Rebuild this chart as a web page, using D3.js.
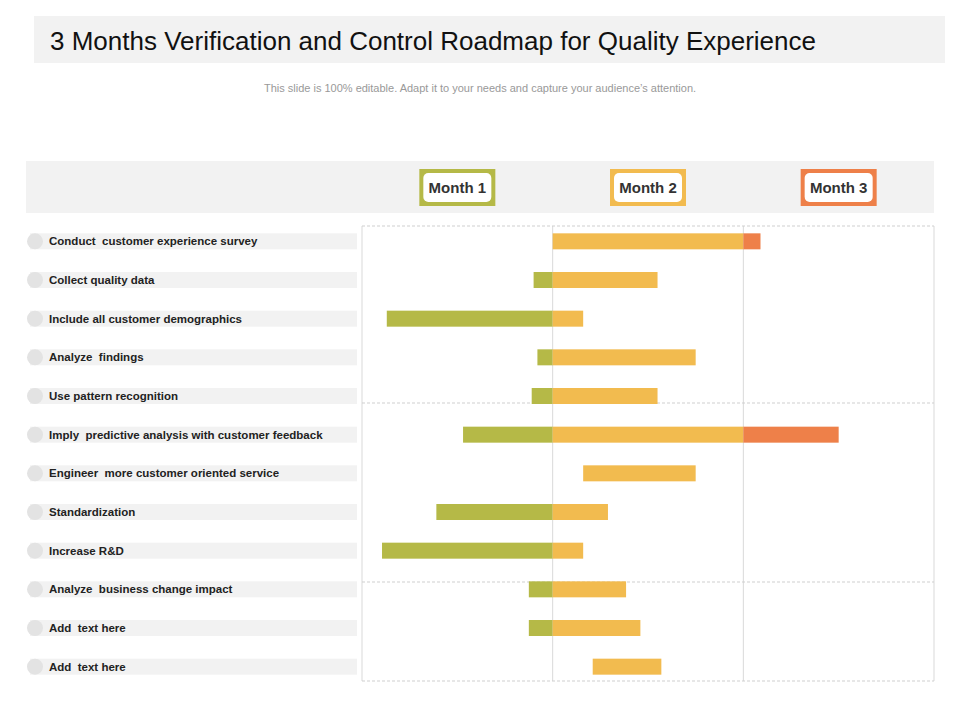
<!DOCTYPE html>
<html><head><meta charset="utf-8">
<script src="https://cdn.jsdelivr.net/npm/d3@7"></script>
<style>body{margin:0;background:#fff;font-family:"Liberation Sans",Arial,sans-serif}</style>
</head><body><div id="chart"></div>
<script>
var tasks = ["Conduct  customer experience survey","Collect quality data","Include all customer demographics","Analyze  findings","Use pattern recognition","Imply  predictive analysis with customer feedback","Engineer  more customer oriented service","Standardization","Increase R&D","Analyze  business change impact","Add  text here","Add  text here"];
var starts = [1.0, 0.90, 0.13, 0.92, 0.89, 0.53, 1.16, 0.39, 0.105, 0.875, 0.875, 1.21];
var ends   = [2.09, 1.55, 1.16, 1.75, 1.55, 2.50, 1.75, 1.29, 1.16, 1.385, 1.46, 1.57];
var months = ["Month 1","Month 2","Month 3"];
var monthColors = ["#b5b947","#f2bb4f","#ee8049"];

var svg = d3.select("#chart").append("svg").attr("width",960).attr("height",720);

svg.append("rect").attr("x",34).attr("y",16).attr("width",911).attr("height",47).attr("fill","#f2f2f2");
svg.append("text").attr("x",50).attr("y",50).attr("font-size",26).attr("fill","#111").text("3 Months Verification and Control Roadmap for Quality Experience");
svg.append("text").attr("x",480).attr("y",92).attr("text-anchor","middle").attr("font-size",11).attr("fill","#999")
  .text("This slide is 100% editable. Adapt it to your needs and capture your audience’s attention.");

var x = d3.scaleLinear().domain([0,3]).range([362,934]);
var y = d3.scaleBand().domain(d3.range(tasks.length)).range([222,686]);

// header band
svg.append("rect").attr("x",26).attr("y",161).attr("width",908).attr("height",52).attr("fill","#f2f2f2");
months.forEach(function(m,i){
  var cx = x(i+0.5);
  svg.append("rect").attr("x",cx-38).attr("y",169).attr("width",76).attr("height",37).attr("fill",monthColors[i]);
  svg.append("rect").attr("x",cx-34).attr("y",173).attr("width",68).attr("height",29).attr("rx",5).attr("fill","#fff");
  svg.append("text").attr("x",cx).attr("y",193).attr("text-anchor","middle").attr("font-size",15).attr("font-weight","bold").attr("fill","#333").text(m);
});

// grid
var g = svg.append("g");
[1,2].forEach(function(v){
  g.append("line").attr("x1",x(v)).attr("x2",x(v)).attr("y1",226).attr("y2",681).attr("stroke","#d9d9d9");
});
[0,3].forEach(function(v){
  g.append("line").attr("x1",x(v)).attr("x2",x(v)).attr("y1",226).attr("y2",681).attr("stroke","#d9d9d9");
});
[226,403,582,681].forEach(function(yy){
  g.append("line").attr("x1",362).attr("x2",934).attr("y1",yy).attr("y2",yy).attr("stroke","#cfcfcf").attr("stroke-dasharray","3,2");
});

// labels
tasks.forEach(function(t,i){
  var cy = y(i)+y.bandwidth()/2;
  svg.append("rect").attr("x",30).attr("y",cy-8).attr("width",327).attr("height",16).attr("fill","#f2f2f2");
  svg.append("circle").attr("cx",35).attr("cy",cy).attr("r",8).attr("fill","#e3e3e3");
  svg.append("text").attr("x",49).attr("y",cy+4).attr("font-size",11.5).attr("font-weight","bold").attr("fill","#222").style("white-space","pre").text(t);
});

// bars, split at month boundaries
tasks.forEach(function(t,i){
  var cy = y(i)+y.bandwidth()/2;
  for (var m=0;m<3;m++){
    var a = Math.max(starts[i],m), b = Math.min(ends[i],m+1);
    if (b>a) svg.append("rect").attr("x",x(a)).attr("y",cy-8).attr("width",x(b)-x(a)).attr("height",16).attr("fill",monthColors[m]);
  }
});
</script></body></html>
